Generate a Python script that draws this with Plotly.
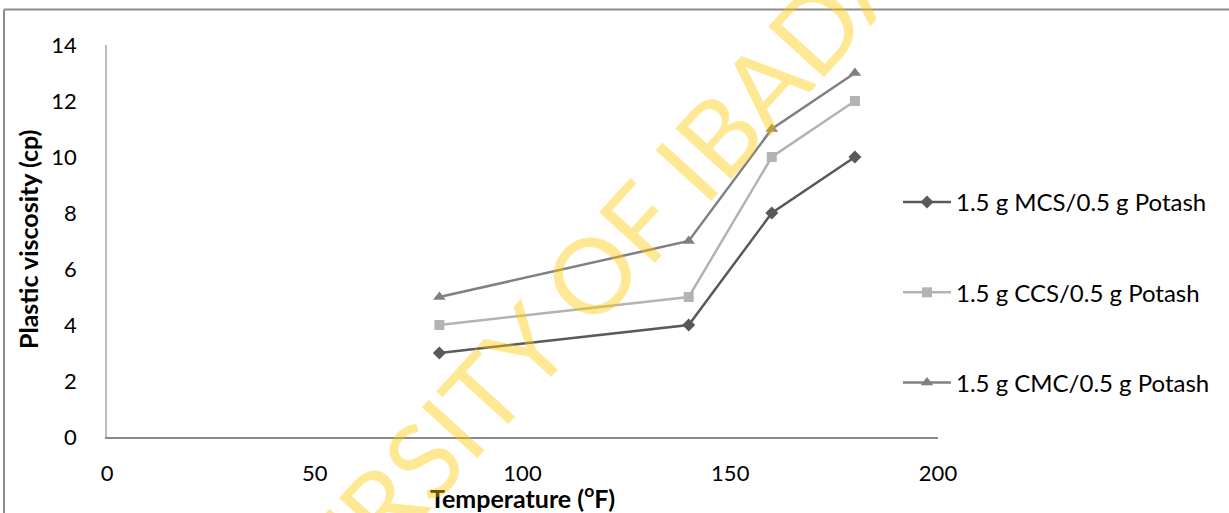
import plotly.graph_objects as go

temperature = [80, 140, 160, 180]
mcs = [3, 4, 8, 10]
ccs = [4, 5, 10, 12]
cmc = [5, 7, 11, 13]
names = ["1.5 g MCS/0.5 g Potash", "1.5 g CCS/0.5 g Potash", "1.5 g CMC/0.5 g Potash"]
x_ticks = [0, 50, 100, 150, 200]
y_ticks = [0, 2, 4, 6, 8, 10, 12, 14]

W, H = 1229, 513
L, R, T, B = 107, 291, 45, 76
pw, ph = W - L - R, H - T - B

def px(x):
    return (x - L) / pw

def py(y):
    return (H - B - y) / ph

FONT = "Lato"
fig = go.Figure()
styles = [
    (mcs, "#595959", "diamond", 10),
    (ccs, "#b3b3b3", "square", 10),
    (cmc, "#808080", "triangle-up", 11),
]
for i, ((vals, col, sym, ms), nm) in enumerate(zip(styles, names)):
    fig.add_trace(go.Scatter(
        x=temperature, y=vals, name=nm, mode="lines+markers",
        line=dict(color=col, width=2.5),
        marker=dict(symbol=sym, size=ms, color=col),
        legendgroup=str(i),
    ))

fig.update_layout(
    width=W, height=H,
    margin=dict(l=L, r=R, t=T, b=B),
    paper_bgcolor="white", plot_bgcolor="white",
    font=dict(family=FONT, size=22, color="black"),
    showlegend=True,
    legend=dict(x=px(898), y=py(180), xanchor="left", yanchor="top",
                font=dict(family=FONT, size=24, color="black"),
                itemwidth=48,
                tracegroupgap=56, bgcolor="rgba(0,0,0,0)"),
    xaxis=dict(range=[0, 200], tickvals=x_ticks, showgrid=False, zeroline=False,
               showline=True, linecolor="#8a8a8a", linewidth=1.5, ticks="",
               ticklabelstandoff=16, tickfont=dict(size=22)),
    yaxis=dict(range=[0, 14], tickvals=y_ticks, showgrid=False, zeroline=False,
               showline=True, linecolor="#bcbcbc", linewidth=1.5, ticks="",
               ticklabelstandoff=24, tickfont=dict(size=22)),
)

annotations = [
    dict(text="<b>Plastic viscosity (cp)</b>", x=px(28), y=py(240), xref="paper", yref="paper",
         xanchor="center", yanchor="middle",
         textangle=-90, showarrow=False, font=dict(family=FONT, size=25, color="black")),
    dict(text="<b>Temperature (<sup>o</sup>F)</b>", x=px(522), y=py(496), xref="paper", yref="paper",
         xanchor="center", yanchor="middle",
         showarrow=False, font=dict(family=FONT, size=25, color="black")),
    dict(text="UNIVERSITY OF IBADAN", x=px(542), y=py(326), xref="paper", yref="paper",
         xanchor="center", yanchor="middle",
         textangle=-47.7, showarrow=False,
         font=dict(family=FONT, size=105, color="rgba(255,200,0,0.42)")),
]
for ch, xp in [("g", 223), ("p", 342), ("g", 518), ("p", 556)]:
    annotations.append(dict(text=ch, x=px(xp), y=py(-14), xref="paper", yref="paper",
                            xanchor="center", yanchor="middle", showarrow=False,
                            font=dict(family="Liberation Serif", size=20, color="black")))
fig.update_layout(annotations=annotations)

fig.add_shape(type="line", xref="paper", yref="paper", x0=px(4), x1=px(W + 5), y0=py(9.5), y1=py(9.5),
              line=dict(color="#8c8c8c", width=2))
fig.add_shape(type="line", xref="paper", yref="paper", x0=px(4), x1=px(4), y0=py(9.5), y1=py(H + 5),
              line=dict(color="#8c8c8c", width=2))

fig.write_html("out.html")
